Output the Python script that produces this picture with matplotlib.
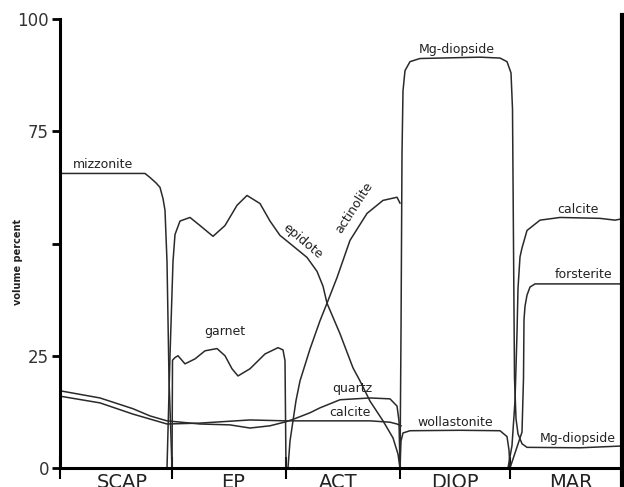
import matplotlib
matplotlib.use("Agg")
import matplotlib.pyplot as plt
import matplotlib.transforms as mtransforms

# distance along the traverse (arbitrary units) and volume percent
zones = ["SCAP", "EP", "ACT", "DIOP", "MAR"]
zone_centers = [62, 173, 278, 395, 511]
zone_edges = [0, 112, 226, 340, 450]

miz_x = [0, 85, 90, 96, 100, 103, 105, 107, 109, 112]
miz_y = [65.6, 65.6, 64.7, 63.5, 62.5, 60, 57.4, 46, 20, 0]

ep_x = [107, 110, 113, 115, 120, 130, 140, 153, 165, 177, 187, 200, 210, 220, 230,
        247, 257, 263, 267, 280, 293, 300, 310, 323, 333, 338, 340]
ep_y = [0, 25, 46, 52, 55, 55.8, 54, 51.6, 54, 58.5, 60.7, 58.9, 55, 51.8, 50,
        46.9, 43.8, 40.5, 36.7, 29.9, 22.3, 19.4, 14.9, 10.5, 6.7, 3.1, 0]

gar_x = [112, 112.5, 115, 118, 125, 135, 145, 157, 165, 172, 178, 190, 205, 218, 223, 225, 226]
gar_y = [0, 24, 24.6, 25, 23.2, 24.3, 26.1, 26.6, 25, 22.1, 20.5, 22.1, 25.4, 26.8, 26.3, 23.9, 0]

qtz_x = [0, 40, 73, 90, 107, 140, 170, 190, 210, 226, 235, 250, 260, 280, 310, 330, 337, 339, 340]
qtz_y = [17.2, 15.6, 13.2, 11.6, 10.5, 9.8, 9.6, 8.9, 9.4, 10.3, 11, 12.3, 13.4, 15.2, 15.6, 15.4, 13.8, 10.5, 0]

cal_x = [0, 40, 73, 107, 140, 190, 226, 260, 310, 330, 337, 341]
cal_y = [16, 14.5, 12, 9.8, 10, 10.7, 10.5, 10.5, 10.5, 10.2, 9.8, 9.4]

act_x = [228, 230, 233, 236, 240, 250, 260, 267, 277, 290, 307, 323, 337, 340]
act_y = [0, 6, 10.5, 15, 19.4, 26.5, 32.8, 36.7, 42.4, 50.7, 56.7, 59.6, 60.3, 59]

mgd_x = [340, 341, 342, 343, 345, 350, 360, 420, 440, 447, 451, 452.5, 453.5, 454.5, 456, 458, 462, 467, 520, 562]
mgd_y = [0, 30, 70, 84, 88.5, 90.5, 91.2, 91.5, 91.3, 90.5, 88, 80, 50, 20, 11, 7.6, 5.4, 4.6, 4.5, 4.9]

wol_x = [340, 341, 343, 350, 400, 440, 447, 449, 450]
wol_y = [0, 6, 7.8, 8.3, 8.4, 8.3, 7, 4, 0]

cal2_x = [448, 452, 455, 457, 458, 460, 462, 467, 480, 500, 540, 555, 562]
cal2_y = [0, 5, 15, 30, 40, 47, 49, 52.9, 55.2, 55.8, 55.6, 55.2, 55.5]

fo_x = [450, 456, 462, 463.5, 464, 465, 467, 470, 475, 562]
fo_y = [0, 4, 8, 20, 33, 36, 38.5, 40.3, 41, 41]

curves = [(miz_x, miz_y), (ep_x, ep_y), (gar_x, gar_y), (qtz_x, qtz_y), (cal_x, cal_y),
          (act_x, act_y), (mgd_x, mgd_y), (wol_x, wol_y), (cal2_x, cal2_y), (fo_x, fo_y)]

fig = plt.figure(figsize=(6.24, 4.87), dpi=100)
ax = fig.add_axes([60 / 624, 19 / 487, 562 / 624, 449 / 487])

for xs, ys in curves:
    ax.plot(xs, ys, color="#2a2a2a", lw=1.1, solid_joinstyle="round")

labels = [
    ("mizzonite", 43, 67.6, 0),
    ("garnet", 165, 30.5, 0),
    ("epidote", 243, 50.5, -40),
    ("actinolite", 294, 58, 57),
    ("Mg-diopside", 397, 93.2, 0),
    ("quartz", 292, 17.8, 0),
    ("calcite", 290, 12.4, 0),
    ("wollastonite", 395, 10.2, 0),
    ("calcite", 518, 57.6, 0),
    ("forsterite", 524, 43.0, 0),
    ("Mg-diopside", 518, 6.6, 0),
]
for txt, x, y, rot in labels:
    ax.text(x, y, txt, fontsize=9, ha="center", va="center", rotation=rot,
            rotation_mode="anchor", color="#222222")

ax.set_xlim(0, 562)
ax.set_ylim(0, 100)
ax.set_yticks([0, 25, 50, 75, 100])
ax.set_yticklabels(["0", "25", "", "75", "100"])
ax.set_xticks(zone_edges)
ax.set_xticklabels([])
ax.tick_params(axis="y", direction="out", length=6, width=2, labelsize=12,
               labelcolor="#333333", pad=2)
ax.tick_params(axis="x", direction="inout", length=16, width=1.5)

ax.spines["top"].set_visible(False)
ax.spines["right"].set_visible(False)
ax.spines["left"].set_linewidth(2.2)
ax.spines["bottom"].set_linewidth(2.2)
ax.axvline(562, ymin=-0.05, ymax=1.01, color="black", lw=3, clip_on=False)

trans = mtransforms.blended_transform_factory(ax.transData, ax.transAxes)
for name, cx in zip(zones, zone_centers):
    ax.text(cx, -0.012, name, transform=trans, ha="center", va="top",
            fontsize=14, color="#222222")

ax.text(-0.075, 0.458, "volume percent", transform=ax.transAxes, rotation=90,
        ha="center", va="center", fontsize=7, fontweight="bold", color="#222222")

fig.savefig("out.png", dpi=100)
